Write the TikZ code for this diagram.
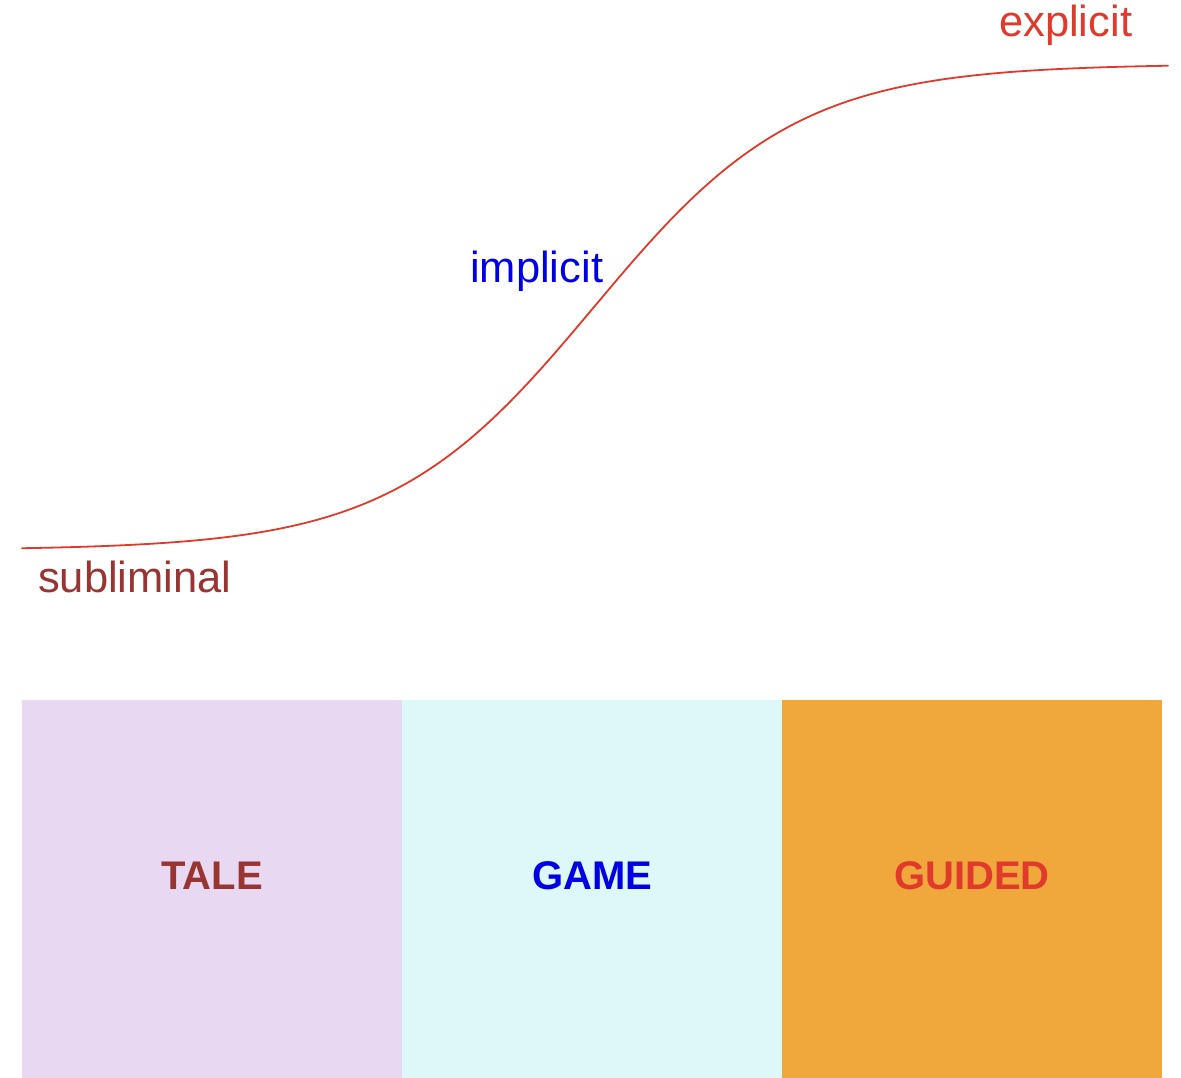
\documentclass[tikz,border=0pt]{standalone}
\usepackage{fontspec}
\setmainfont{Liberation Sans}
\definecolor{curvered}{HTML}{E03A2C}
\definecolor{talebrown}{HTML}{983532}
\definecolor{gameblue}{HTML}{0000E6}
\definecolor{lavender}{HTML}{E8D8F1}
\definecolor{paleaqua}{HTML}{DDF8F9}
\definecolor{amber}{HTML}{F0A83C}
\begin{document}
\begin{tikzpicture}[x=1pt,y=-1pt,
  lbl/.style={font=\fontsize{43.5}{50}\selectfont, inner sep=0pt, anchor=base west},
  band/.style={draw=none, minimum width=380pt, minimum height=378pt, inner sep=0pt, anchor=north west},
  bandtext/.style={font=\fontsize{40}{48}\selectfont\bfseries, inner sep=0pt}]
  \useasboundingbox (0,0) rectangle (1181,1078);
  \fill[white] (0,0) rectangle (1181,1078);

  % logistic curve rising from subliminal to explicit
  \coordinate (low) at (22,549);
  \coordinate (high) at (1168,64);
  \draw[curvered, line width=1.8pt, line cap=round]
    plot[domain=22:1168, samples=240, smooth] (\x, {550 - 486/(1+exp(-(\x-594)/102))});

  \node[lbl, text=curvered] (explicit) at (999,37) {explicit};
  \node[lbl, text=gameblue] (implicit) at (470,282) {implicit};
  \node[lbl, text=talebrown] (subliminal) at (38,592) {subliminal};

  % three bands along the bottom
  \node[band, fill=lavender] (tale) at (22,700) {};
  \node[band, fill=paleaqua] (game) at (402,700) {};
  \node[band, fill=amber] (guided) at (782,700) {};
  \node[bandtext, text=talebrown] (taletext) at (212,876) {TALE};
  \node[bandtext, text=gameblue] (gametext) at (592,876) {GAME};
  \node[bandtext, text=curvered] (guidedtext) at (972,876) {GUIDED};
\end{tikzpicture}
\end{document}
